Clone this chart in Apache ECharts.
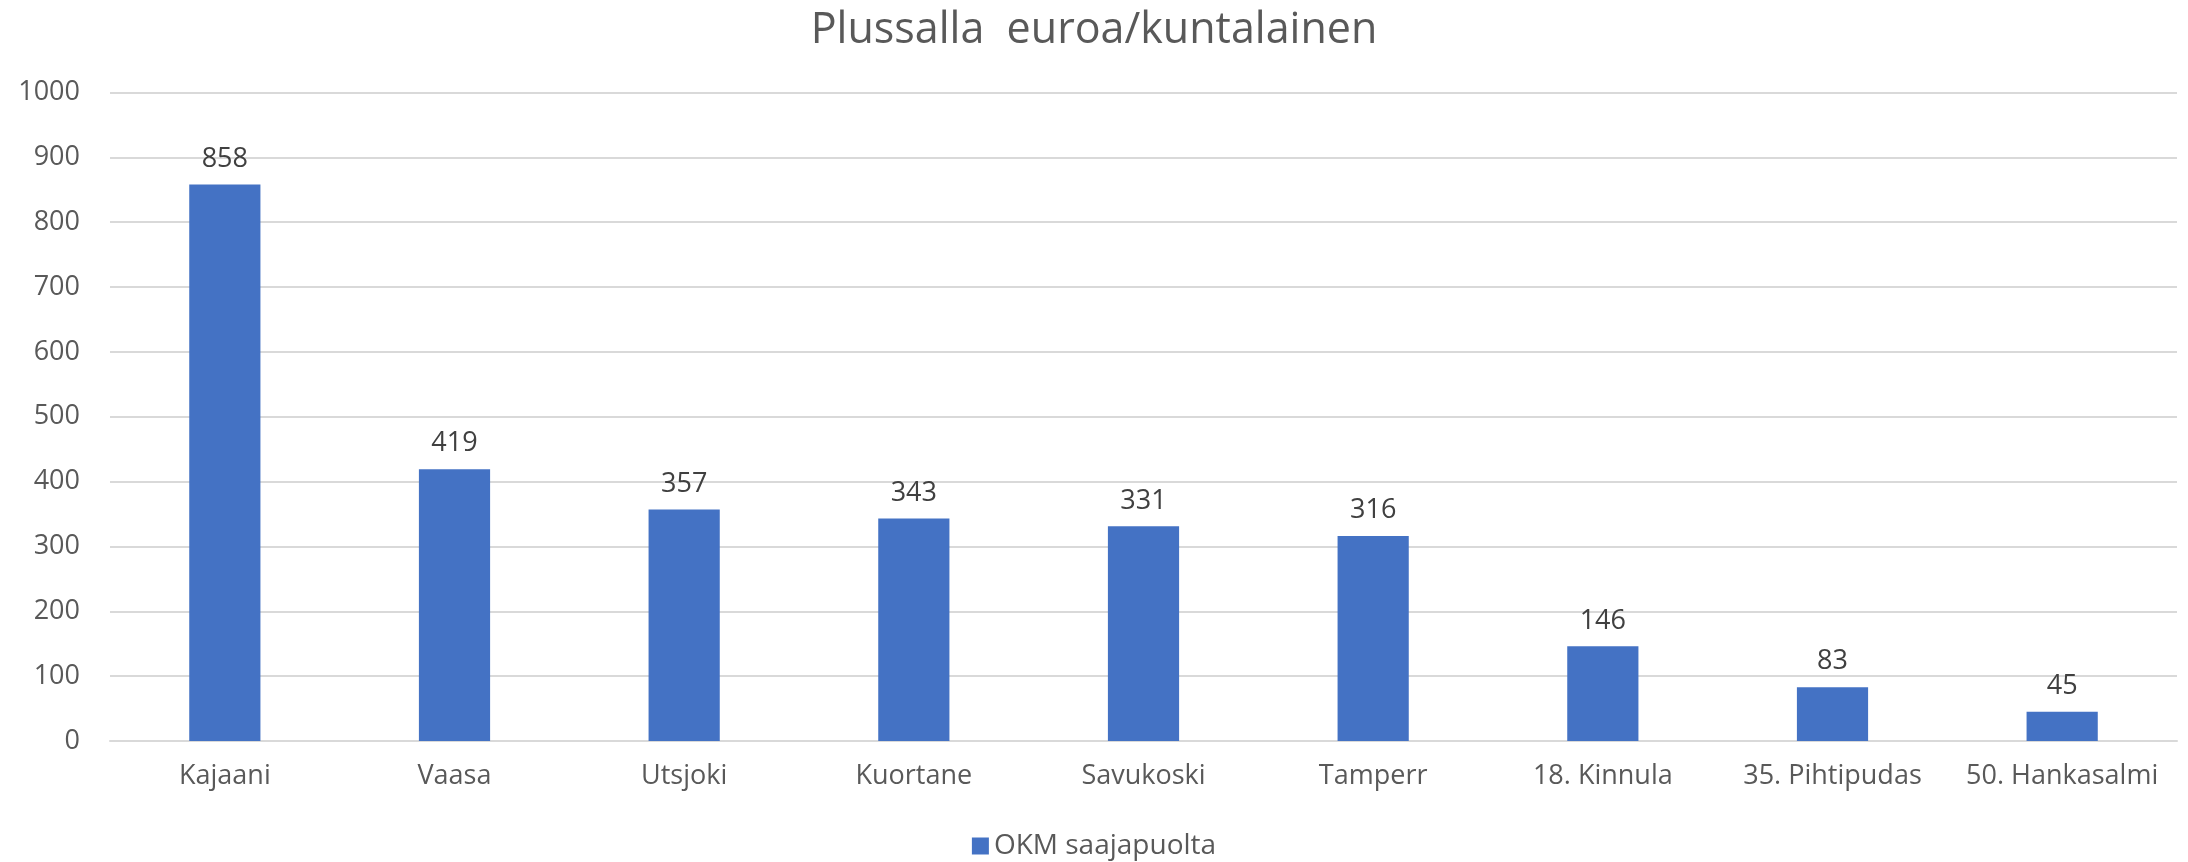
<!DOCTYPE html>
<html><head><meta charset="utf-8">
<script src="https://cdn.jsdelivr.net/npm/echarts@6/dist/echarts.min.js"></script>
<style>html,body{margin:0;padding:0;background:#fff}#c{width:2188px;height:862px}</style>
</head><body><div id="c"></div>
<script>
const categories = ["Kajaani","Vaasa","Utsjoki","Kuortane","Savukoski","Tamperr","18. Kinnula","35. Pihtipudas","50. Hankasalmi"];
const values = [858,419,357,343,331,316,146,83,45];
const seriesName = "OKM saajapuolta";
const titleText = "Plussalla  euroa/kuntalainen";
const FONT = "'Open Sans', sans-serif";
const chart = echarts.init(document.getElementById('c'), null, {renderer:'canvas'});
chart.setOption({
  animation:false,
  backgroundColor:'#fff',
  title:{text:titleText,left:'center',top:4,textStyle:{fontFamily:FONT,fontSize:43,fontWeight:'normal',color:'#595959'}},
  grid:{left:110,right:11,top:92.5,bottom:121,containLabel:false},
  legend:{bottom:-3,left:1095,itemWidth:17,itemHeight:17,itemGap:8,icon:'rect',
    textStyle:{fontFamily:FONT,fontSize:28,color:'#595959'},data:[seriesName]},
  xAxis:{type:'category',data:categories,
    axisLine:{show:true,lineStyle:{color:'#D9D9D9',width:2}},axisTick:{show:false},
    axisLabel:{interval:0,fontFamily:FONT,fontSize:27,color:'#595959',margin:22}},
  yAxis:{type:'value',min:0,max:1000,interval:100,
    axisLine:{show:false},axisTick:{show:false},
    splitLine:{lineStyle:{color:'#D9D9D9',width:2}},
    axisLabel:{fontFamily:FONT,fontSize:27,color:'#595959',margin:30,formatter:function(v){return String(v);}}},
  series:[{name:seriesName,type:'bar',data:values,barWidth:'31%',
    itemStyle:{color:'#4472C4'},
    label:{show:true,position:'top',distance:12,fontFamily:FONT,fontSize:27,color:'#404040'}}]
});
chart.setOption({legend:{left:'center'}});
</script></body></html>
